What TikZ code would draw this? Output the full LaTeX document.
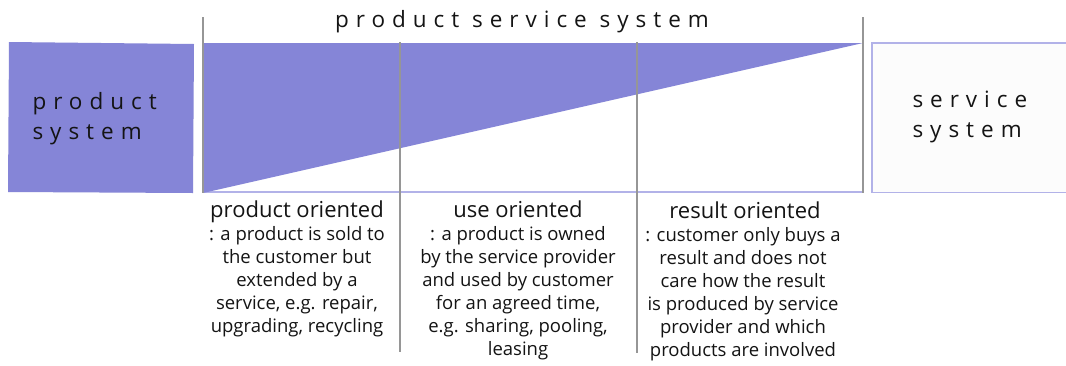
\documentclass[tikz,border=0pt]{standalone}
\usepackage{fontspec}
\setmainfont{Open Sans}
\newfontfamily\spacedfont[LetterSpace=31]{Open Sans}
\definecolor{pssfill}{RGB}{133,133,215}
\definecolor{pssedge}{RGB}{178,178,232}
\definecolor{divider}{RGB}{150,150,150}
\definecolor{ink}{RGB}{20,20,20}
\begin{document}
\begin{tikzpicture}[x=1pt,y=-1pt,
  spaced/.style={text=ink,font=\spacedfont\fontsize{22.5}{30}\selectfont,align=left},
  heading/.style={text=ink,font=\fontsize{22}{23}\selectfont,anchor=base},
  body/.style={text=ink,font=\fontsize{18.5}{23}\selectfont,align=center,anchor=north},
  divline/.style={draw=divider,line width=1.2pt},
  edge/.style={draw=pssedge,line width=1.3pt}]
\useasboundingbox (0,0) rectangle (1066,365);
\fill[white] (0,0) rectangle (1066,365);

% product system block
\fill[pssfill] (9,42) -- (194,44) -- (193,193) -- (8,192) -- cycle;
\node[spaced,anchor=west] (ps) at (29,119) {product\\system};

% service system block, running off the right edge
\draw[edge,fill=white!98!gray] (1070,43) -- (872,43) -- (872,192.5) -- (1070,192.5);
\node[spaced,anchor=west] (ss) at (909,117) {service\\system};

% product service system: share of product falls as service grows
\draw[edge] (203,192) -- (863,192);
\fill[pssfill] (203,43) -- (863,43) -- (203,193) -- cycle;
\coordinate (lt) at (203,17);
\coordinate (lb) at (203,193);
\coordinate (rt) at (863,17);
\coordinate (rb) at (863,192.5);
\draw[divline] (lt) -- (lb);
\draw[divline] (rt) -- (rb);
\node[spaced,anchor=base] (pss) at (522,27) {product service system};

% column dividers
\coordinate (d1t) at (400,42);
\coordinate (d1b) at (400,352);
\coordinate (d2t) at (637,42);
\coordinate (d2b) at (637,353);
\draw[divline] (d1t) -- (d1b);
\draw[divline] (d2t) -- (d2b);

% three kinds of product service system
\node[heading] (po) at (297,217) {product oriented};
\node[body] (pob) at (297,223) {: a product is sold to\\the customer but\\extended by a\\service, e.g. repair,\\upgrading, recycling};
\node[heading] (uo) at (518,217) {use oriented};
\node[body] (uob) at (518,223) {: a product is owned\\by the service provider\\and used by customer\\for an agreed time,\\e.g. sharing, pooling,\\leasing};
\node[heading] (ro) at (745,218) {result oriented};
\node[body] (rob) at (743,224) {: customer only buys a\\result and does not\\care how the result\\is produced by service\\provider and which\\products are involved};
\end{tikzpicture}
\end{document}
